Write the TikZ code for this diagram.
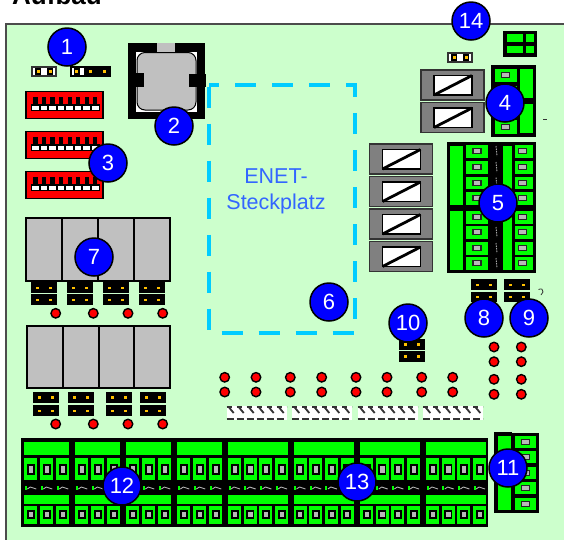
\documentclass[tikz,border=0pt]{standalone}
\usepackage{fontspec}
\setmainfont{Liberation Sans}
\setsansfont{Liberation Sans}

\definecolor{boardgreen}{HTML}{CCFFCC}
\definecolor{termgreen}{HTML}{00FF00}
\definecolor{enetcyan}{HTML}{00CCFF}
\definecolor{enetblue}{HTML}{3366FF}
\definecolor{pinorange}{HTML}{FFC000}
\definecolor{relaygray}{HTML}{C0C0C0}
\definecolor{chipgray}{HTML}{B8B8B8}
\definecolor{darkframe}{HTML}{333333}

\tikzset{
	badge/.style={circle,fill=blue,draw=black,line width=1.5pt,inner sep=0pt,minimum size=38pt,text=white,font=\fontsize{22}{22}\selectfont},
	pinmark/.style={fill=pinorange},
	greencell/.style={fill=termgreen},
	chip/.style={fill=chipgray,draw=black!85,line width=1.2pt},
	relaybox/.style={fill=relaygray,draw=black,line width=1.8pt},
	coupler/.style={fill=gray,draw=darkframe,line width=1.1pt},
	led/.style={circle,fill=red,draw=black,line width=1.4pt,inner sep=0pt,minimum size=9.5pt}
}

% two-pin jumper, all black
\newcommand{\jumperblack}[2]{
	\fill[black] (#1,#2) rectangle ++(26,10.7);
	\fill[pinmark] (#1+5,#2+4.2) rectangle ++(3,2.4);
	\fill[pinmark] (#1+18,#2+4.2) rectangle ++(3,2.4);
}
% two-pin jumper with a white link
\newcommand{\jumperopen}[2]{
	\fill[darkframe] (#1,#2) rectangle ++(26,11);
	\fill[white] (#1+2,#2+2) rectangle ++(22,7);
	\fill[black] (#1+4,#2+2) rectangle ++(6,7);
	\fill[black] (#1+16,#2+2) rectangle ++(6,7);
	\fill[pinmark] (#1+5.5,#2+4) rectangle ++(3,3);
	\fill[pinmark] (#1+17.5,#2+4) rectangle ++(3,3);
}
\newcommand{\dipswitch}[1]{
	\draw[fill=red,draw=black,line width=1.8pt] (26,#1) rectangle ++(77,27);
	\foreach \i in {0,...,7}{
		\fill[black] ({33.3+8.55*\i},#1+5.5) rectangle ++(4.2,9);
		\draw[fill=white,draw=black,line width=1.3pt] ({31.3+8.55*\i},#1+13.5) rectangle ++(8,5.5);
	}
}
\newcommand{\couplerbox}[2]{
	\draw[coupler] (#1,#2) rectangle ++(63,30);
	\draw[fill=white,draw=black,line width=1.5pt] (#1+13,#2+5.5) rectangle ++(38,19.5);
	\draw[line width=2.8pt] (#1+13,#2+25) -- (#1+51,#2+5.5);
}
\newcommand{\greychip}[2]{
	\draw[chip] (#1-4,#2-2.5) rectangle ++(8,5);
}
% one group of the lower terminal strip: x, pins, pitch
\newcommand{\termgroup}[3]{
	\fill[greencell] (#1,442) rectangle ({#1+(#2-1)*#3+13},455);
	\fill[greencell] (#1,494.5) rectangle ({#1+(#2-1)*#3+13},503.5);
	\foreach \i in {1,...,#2}{
		\pgfmathsetmacro{\px}{#1+(\i-1)*#3}
		\fill[greencell] (\px,457.5) rectangle ++(13,22.5);
		\fill[greencell] (\px,506) rectangle ++(13,18);
		\fill[black] (\px+2.7,463.5) rectangle ++(8,11);
		\fill[chipgray] (\px+4.6,465.5) rectangle ++(4.2,7);
		\fill[black] (\px+2.7,510) rectangle ++(8,9);
		\fill[chipgray] (\px+4.6,512) rectangle ++(4.2,5);
		\fill[termgreen] (\px+0.5,486) rectangle ++(2,4);
		\draw[gray!60,line width=0.9pt] (\px+3,489) -- ++(3,-2) -- ++(3,1) -- ++(3,1);
	}
}
\newcommand{\fusestrip}[1]{
	\fill[white] (#1,405.5) rectangle ++(60,14.5);
	\draw[darkframe,line width=1.8pt,dash pattern=on 7pt off 3pt] (#1,419.3) -- ++(60,0);
	\draw[darkframe,line width=2pt,dash pattern=on 5pt off 5pt] (#1,406.5) -- ++(60,0);
	\foreach \i in {0,...,5}{
		\draw[darkframe,line width=1.8pt] ({#1+2+10*\i},407) -- ++(5,6);
	}
}

\begin{document}
\begin{tikzpicture}[x=1pt,y=-1pt,font=\sffamily]
	\useasboundingbox (0,0) rectangle (564,539);

	\node[anchor=base west,inner sep=0pt,font=\sffamily\bfseries\fontsize{26}{26}\selectfont] (title) at (12,4) {Aufbau};

	\draw[fill=boardgreen,draw=black!70,line width=1.5pt] (6,24) rectangle (590,570);

	% jumpers at the top
	\jumperopen{31}{66}
	\jumperopen{447}{52}
	\fill[black] (70,66) rectangle (111,77);
	\fill[white] (72,68) rectangle (84,75);
	\fill[black] (73.5,68) rectangle (80,75);
	\fill[pinmark] (75.2,70) rectangle ++(3,3);
	\fill[pinmark] (89,70.2) rectangle ++(3,2.6);
	\fill[pinmark] (103,70.2) rectangle ++(3,2.6);

	% dip switches
	\dipswitch{91.5}
	\dipswitch{131.5}
	\dipswitch{171.5}

	% socket
	\fill[black] (128,43) rectangle (205,119);
	\fill[white] (136,52) rectangle (197,112);
	\fill[relaygray] (157,43) rectangle (175,53);
	\draw[fill=relaygray,draw=black,line width=1pt,rounded corners=8pt] (137,52.5) rectangle (196,110);
	\fill[black] (128,73) rectangle (144,87);
	\fill[black] (189,74) rectangle (206,87);

	% ENET slot
	\draw[enetcyan,line width=4.5pt,dash pattern=on 21pt off 16pt] (209,86.5) -- (209,333) -- (355,333) -- (355,85) -- (209,85);
	\node[text=enetblue,font=\sffamily\fontsize{21.5}{26}\selectfont,align=center] (enet) at (276,191.5) {ENET-\\Steckplatz};

	% opto couplers
	\couplerbox{421}{70}
	\couplerbox{421}{102.5}
	\couplerbox{369.5}{144}
	\couplerbox{369.5}{176.5}
	\couplerbox{369.5}{209}
	\couplerbox{369.5}{241.5}

	% small terminal top right
	\fill[black] (503,31) rectangle (537,57);
	\fill[greencell] (507,34) rectangle (523,41.5);
	\fill[greencell] (507,45.5) rectangle (523,53);
	\fill[greencell] (526,34) rectangle (534,41.5);
	\fill[greencell] (526,45.5) rectangle (534,53);

	% terminal 4
	\fill[black] (491,65) rectangle (536,137);
	\fill[greencell] (519.5,68.5) rectangle (533,98);
	\fill[greencell] (519.5,104) rectangle (533,133);
	\foreach \y in {68.5,85.5,102.5,120}{
		\fill[greencell] (494.5,\y) rectangle ++(22,13.5);
		\greychip{505.5}{\y+6.7}
	}

	% terminal 5
	\fill[black] (447,142) rectangle (536,273);
	\fill[greencell] (450,146) rectangle (463,205);
	\fill[greencell] (450,211) rectangle (463,270);
	\fill[greencell] (503,146) rectangle (512,205);
	\fill[greencell] (503,211) rectangle (512,270);
	\foreach \y in {145,161,176.5,192,211,226,242,257}{
		\fill[greencell] (466,\y) rectangle ++(22,12.5);
		\fill[greencell] (515,\y) rectangle ++(18,12.5);
		\greychip{477}{\y+6.2}
		\greychip{522.5}{\y+6.2}
		\draw[gray!70,line width=0.9pt,dash pattern=on 1.5pt off 1pt] (496,\y+1) -- (497,\y+11);
	}

	% relays
	\foreach \x in {26.3,62.3,98.3,134}{
		\draw[relaybox] (\x,217.7) rectangle ++(35.7,63);
	}
	\foreach \x in {27,62.7,98.7,134.3}{
		\draw[relaybox] (\x,325.7) rectangle ++(35.8,62.6);
	}

	% jumpers under the relays
	\foreach \x in {31.3,67.3,103.3,139}{
		\jumperblack{\x}{282.3}
		\jumperblack{\x}{294.3}
	}
	\foreach \x in {33,67.7,105.7,140}{
		\jumperblack{\x}{392}
		\jumperblack{\x}{405.3}
	}
	\jumperblack{471.3}{279.3}
	\jumperblack{471.3}{291.5}
	\jumperblack{504}{279.3}
	\jumperblack{504}{291.5}
	\jumperblack{399}{339}
	\jumperblack{399}{351}

	% leds
	\foreach \x [count=\n] in {55.7,93.3,128,162.7}{
		\node[led] (ledA\n) at (\x,313.3) {};
		\node[led] (ledB\n) at (\x,424) {};
	}
	\foreach \x [count=\n] in {224.7,256,290.3,321.7,356,387,421.7,452.7}{
		\node[led] (ledC\n) at (\x,377.3) {};
		\node[led] (ledD\n) at (\x,392) {};
	}
	\foreach \y [count=\n] in {347,361.7,379.3,394.3}{
		\node[led] (ledE\n) at (494,\y) {};
		\node[led] (ledF\n) at (521.3,\y) {};
	}

	% fuses
	\fusestrip{226.7}
	\fusestrip{292.3}
	\fusestrip{357.7}
	\fusestrip{423.3}

	% lower terminal strip
	\fill[black] (21,438) rectangle (488,527);
	\termgroup{24.3}{3}{16}
	\termgroup{75.3}{3}{16}
	\termgroup{126.3}{3}{16}
	\termgroup{177.3}{3}{16}
	\termgroup{228}{4}{15.7}
	\termgroup{293.5}{4}{15.7}
	\termgroup{360}{4}{15.7}
	\termgroup{426}{4}{15.7}

	% terminal 11
	\fill[black] (494,432) rectangle (511.5,513);
	\fill[black] (511,432.5) rectangle (539,513);
	\fill[greencell] (497.5,436) rectangle (511,510);
	\foreach \y in {436,451,467,482,498}{
		\fill[greencell] (514.5,\y) rectangle ++(21.5,12);
		\greychip{525.5}{\y+6}
	}

	% marks at the right edge
	\draw[darkframe,line width=0.8pt] (543,119) -- (547,119);
	\draw[darkframe,line width=0.8pt] (538.5,289.5) .. controls (541,288) and (544,289.5) .. (543,292) .. controls (542.5,293.5) and (541.5,294) .. (541,295);

	% numbers
	\node[badge] (b1) at (67,47) {1};
	\node[badge] (b2) at (174,126) {2};
	\node[badge] (b3) at (108,163) {3};
	\node[badge] (b4) at (505,103) {4};
	\node[badge] (b5) at (498,203) {5};
	\node[badge] (b6) at (329,302) {6};
	\node[badge] (b7) at (94,257) {7};
	\node[badge] (b8) at (484,318) {8};
	\node[badge] (b9) at (529,318) {9};
	\node[badge] (b10) at (408,323) {10};
	\node[badge] (b11) at (508,468) {11};
	\node[badge] (b12) at (122,486) {12};
	\node[badge] (b13) at (357,482) {13};
	\node[badge] (b14) at (471,21) {14};

\end{tikzpicture}
\end{document}
